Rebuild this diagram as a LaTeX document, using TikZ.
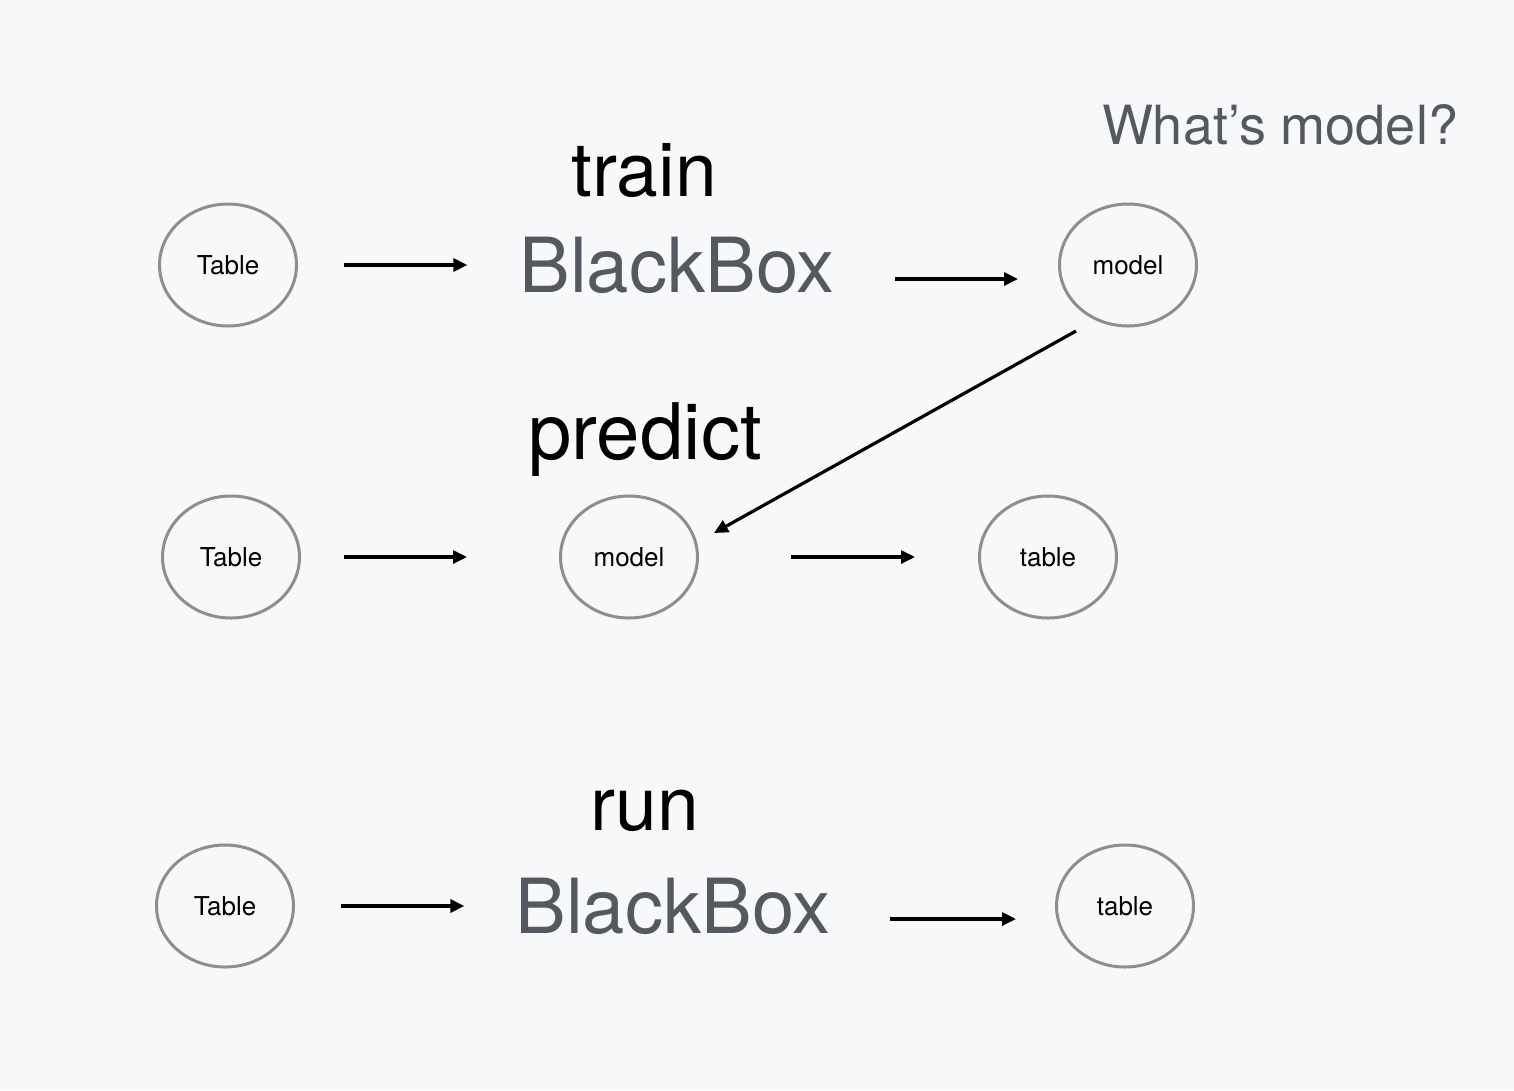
\documentclass[tikz,border=0pt]{standalone}
\usepackage{fontspec}
\setmainfont{TeX Gyre Heros}
\usetikzlibrary{shapes.geometric,arrows.meta}
\definecolor{bg}{HTML}{F7F8FA}
\definecolor{ring}{HTML}{8E8E8E}
\definecolor{boxtext}{HTML}{55585E}

\begin{document}
\begin{tikzpicture}[x=1pt,y=-1pt]
        \fill[bg] (0,0) rectangle (1514,1090);
        \useasboundingbox (0,0) rectangle (1514,1090);
        \begin{scope}[every node/.style={ellipse,draw=ring,line width=3pt,minimum width=137pt,minimum height=122pt,inner sep=0pt,outer sep=0pt,font=\fontsize{26}{30}\selectfont}]
            \node (1) at (228,265) {Table};
            \node (3) at (1128,265) {model};

            \node (6) at (231,557) {Table};
            \node (7) at (629,557) {model};
            \node (8) at (1048,557) {table};

            \node (10) at (225,906) {Table};
            \node (12) at (1125,906) {table};
        \end{scope}
        \begin{scope}[every node/.style={inner sep=0pt,outer sep=0pt,font=\fontsize{75}{86}\selectfont}]
            \node[font=\fontsize{76}{90}\selectfont,text=boxtext] (2) at (677,265) {BlackBox};
            \node (4) at (644,171) {train};
            \node[font=\fontsize{54}{64}\selectfont,text=boxtext] (5) at (1280,125) {What’s model?};

            \node[font=\fontsize{78}{90}\selectfont] (9) at (645,440) {predict};

            \node[font=\fontsize{76}{90}\selectfont,text=boxtext] (11) at (673,906) {BlackBox};
            \node (13) at (645,811) {run};
        \end{scope}
        \begin{scope}[every edge/.style={draw,line width=3.2pt,-{Triangle[length=14pt,width=13pt]}}]
            \path (1) edge[shorten <=47.5pt,shorten >=52pt] (2);
            \path ([yshift=-14pt]2.east) edge[shorten <=60pt,shorten >=41.5pt] ([yshift=-14pt]3.west);

            \path ([xshift=-52pt,yshift=-5pt]3.south) edge ([xshift=16.5pt,yshift=24pt]7.east);

            \path (6) edge[shorten <=44.5pt,shorten >=93.5pt] (7);
            \path (7) edge[shorten <=93.5pt,shorten >=64.5pt] (8);

            \path (10) edge[shorten <=47.5pt,shorten >=51pt] (11);
            \path ([yshift=-13pt]11.east) edge[shorten <=59.5pt,shorten >=40.5pt] ([yshift=-13pt]12.west);
        \end{scope}
    \end{tikzpicture}
\end{document}
